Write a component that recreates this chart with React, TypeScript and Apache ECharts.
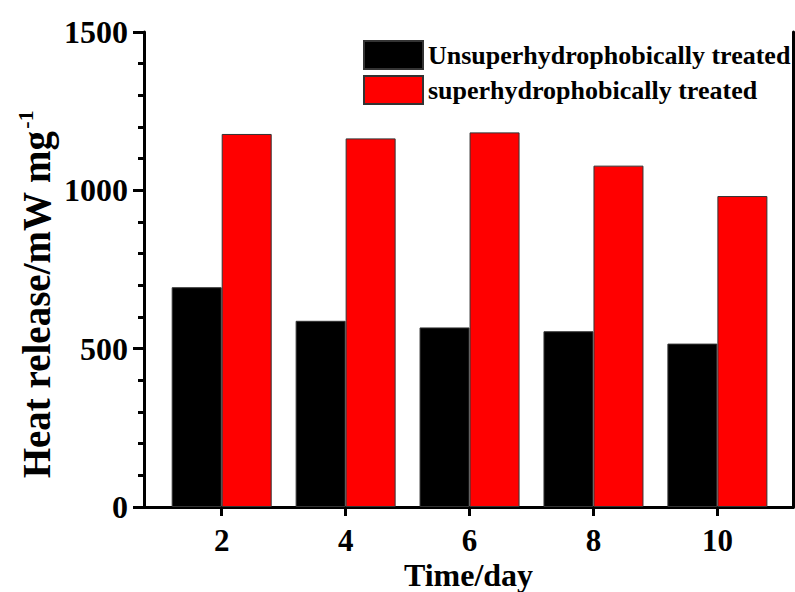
import React, { useEffect, useRef } from "react";
import * as echarts from "echarts";

const days = [2, 4, 6, 8, 10];
const untreated = [694, 588, 567, 555, 516];
const treated = [1178, 1164, 1183, 1078, 982];
const seriesNames = ["Unsuperhydrophobically treated", "superhydrophobically treated"];
const yTicks = [0, 500, 1000, 1500];

const FONT = "'Liberation Serif', 'Times New Roman', serif";

export default function App() {
  const ref = useRef<HTMLDivElement>(null);
  useEffect(() => {
    if (!ref.current) return;
    const chart = echarts.init(ref.current, null, { renderer: "svg" });
    const xMin = 0.746;
    const xMax = 11.22;
    chart.setOption({
      animation: false,
      backgroundColor: "#ffffff",
      textStyle: { fontFamily: FONT },
      grid: { left: 144, right: 2, top: 32, bottom: 85, outerBoundsMode: "none", containLabel: false },
      legend: {
        orient: "vertical",
        left: 358,
        top: 35,
        itemWidth: 59,
        itemHeight: 28,
        itemGap: 5,
        icon: "rect",
        textStyle: { fontFamily: FONT, fontWeight: "bold", fontSize: 26, color: "#000" },
        data: seriesNames,
      },
      xAxis: [
        {
          type: "value",
          min: xMin,
          max: xMax,
          name: "Time/day",
          nameLocation: "middle",
          nameGap: 52,
          nameMoveOverlap: false,
          nameTextStyle: { fontFamily: FONT, fontWeight: "bold", fontSize: 32, lineHeight: 32, color: "#000" },
          splitLine: { show: false },
          axisLine: { show: true, lineStyle: { color: "#000", width: 3 } },
          axisTick: { show: true, inside: false, length: 9, lineStyle: { width: 3, color: "#000" }, customValues: days },
          axisLabel: {
            show: true,
            customValues: days,
            margin: 18,
            fontFamily: FONT,
            fontWeight: "bold",
            fontSize: 31,
            color: "#000",
          },
        },
        {
          type: "value",
          position: "top",
          min: xMin,
          max: xMax,
          splitLine: { show: false },
          axisLine: { show: true, lineStyle: { color: "#000", width: 3 } },
          axisTick: { show: false },
          axisLabel: { show: false },
        },
      ],
      yAxis: [
        {
          type: "value",
          min: yTicks[0],
          max: yTicks[yTicks.length - 1],
          interval: 500,
          name: "{a|Heat release/mW mg}{b|-1}",
          nameLocation: "middle",
          nameGap: 86,
          nameMoveOverlap: false,
          nameTextStyle: {
            padding: [0, 50, 0, 0],
            rich: {
              a: { fontFamily: FONT, fontWeight: "bold", fontSize: 39, color: "#000" },
              b: { fontFamily: FONT, fontWeight: "bold", fontSize: 22, color: "#000", padding: [0, 0, 22, 2] },
            },
          },
          splitLine: { show: false },
          axisLine: { show: true, lineStyle: { color: "#000", width: 3 } },
          axisTick: { show: true, inside: false, length: 11, lineStyle: { width: 3, color: "#000" } },
          minorTick: { show: true, splitNumber: 5, length: 6, lineStyle: { width: 3, color: "#000" } },
          axisLabel: {
            margin: 16,
            fontFamily: FONT,
            fontWeight: "bold",
            fontSize: 32,
            color: "#000",
            formatter: (v: number) => String(v),
          },
        },
        {
          type: "value",
          position: "right",
          min: 0,
          max: 1500,
          splitLine: { show: false },
          axisLine: { show: true, lineStyle: { color: "#000", width: 3 } },
          axisTick: { show: false },
          axisLabel: { show: false },
        },
      ],
      series: [
        {
          name: seriesNames[0],
          type: "bar",
          barWidth: 50,
          barGap: "0%",
          itemStyle: { color: "#000000", borderColor: "#333", borderWidth: 1 },
          data: days.map((d, i) => [d, untreated[i]]),
        },
        {
          name: seriesNames[1],
          type: "bar",
          barWidth: 50,
          barGap: "0%",
          itemStyle: { color: "#ff0000", borderColor: "#333", borderWidth: 1 },
          data: days.map((d, i) => [d, treated[i]]),
        },
      ],
    });
    return () => chart.dispose();
  }, []);
  return <div ref={ref} style={{ width: 795, height: 592, position: "absolute", left: 0, top: 0 }} />;
}
